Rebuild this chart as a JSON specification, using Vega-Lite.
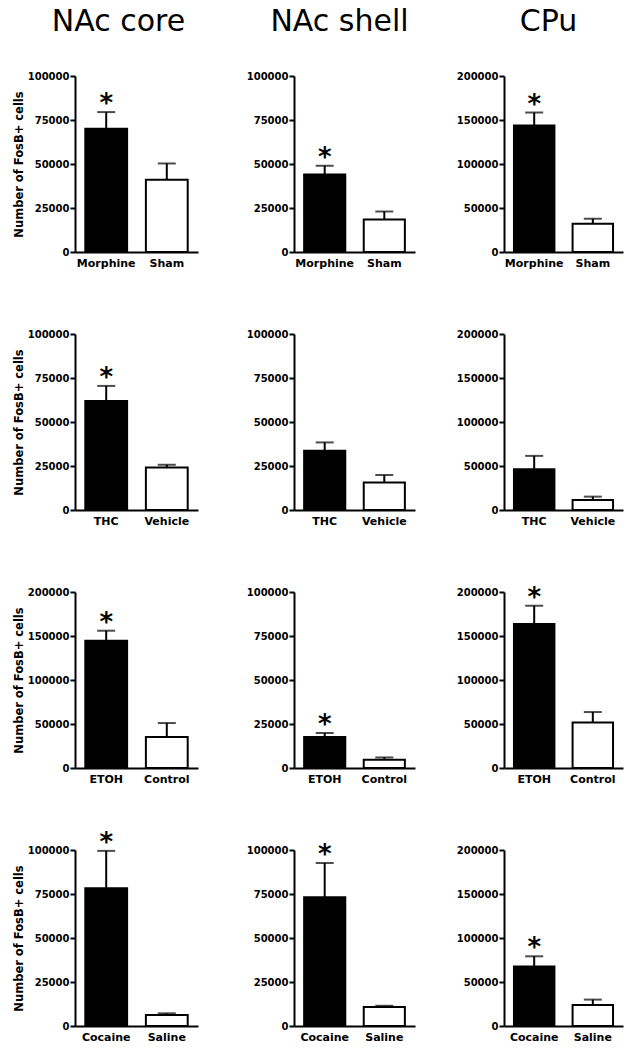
{
"$schema": "https://vega.github.io/schema/vega-lite/v6.json",
"padding": {"left": 13, "top": 7, "right": 5, "bottom": 5},
"background": "white",
"data": {"values": [
{"region": "NAc core", "exp": "morphine", "label": "Morphine", "kind": "drug", "mean": 70000, "hi": 79500, "star": true},
{"region": "NAc core", "exp": "morphine", "label": "Sham", "kind": "control", "mean": 41000, "hi": 50300, "star": false},
{"region": "NAc shell", "exp": "morphine", "label": "Morphine", "kind": "drug", "mean": 44000, "hi": 49000, "star": true},
{"region": "NAc shell", "exp": "morphine", "label": "Sham", "kind": "control", "mean": 18500, "hi": 23000, "star": false},
{"region": "CPu", "exp": "morphine", "label": "Morphine", "kind": "drug", "mean": 143700, "hi": 158500, "star": true},
{"region": "CPu", "exp": "morphine", "label": "Sham", "kind": "control", "mean": 32000, "hi": 37800, "star": false},
{"region": "NAc core", "exp": "thc", "label": "THC", "kind": "drug", "mean": 61900, "hi": 70500, "star": true},
{"region": "NAc core", "exp": "thc", "label": "Vehicle", "kind": "control", "mean": 24200, "hi": 25700, "star": false},
{"region": "NAc shell", "exp": "thc", "label": "THC", "kind": "drug", "mean": 33600, "hi": 38400, "star": false},
{"region": "NAc shell", "exp": "thc", "label": "Vehicle", "kind": "control", "mean": 15600, "hi": 19900, "star": false},
{"region": "CPu", "exp": "thc", "label": "THC", "kind": "drug", "mean": 46300, "hi": 61500, "star": false},
{"region": "CPu", "exp": "thc", "label": "Vehicle", "kind": "control", "mean": 11400, "hi": 15200, "star": false},
{"region": "NAc core", "exp": "etoh", "label": "ETOH", "kind": "drug", "mean": 144700, "hi": 156000, "star": true},
{"region": "NAc core", "exp": "etoh", "label": "Control", "kind": "control", "mean": 35200, "hi": 51100, "star": false},
{"region": "NAc shell", "exp": "etoh", "label": "ETOH", "kind": "drug", "mean": 17600, "hi": 19900, "star": true},
{"region": "NAc shell", "exp": "etoh", "label": "Control", "kind": "control", "mean": 4700, "hi": 6000, "star": false},
{"region": "CPu", "exp": "etoh", "label": "ETOH", "kind": "drug", "mean": 163600, "hi": 184400, "star": true},
{"region": "CPu", "exp": "etoh", "label": "Control", "kind": "control", "mean": 51800, "hi": 63600, "star": false},
{"region": "NAc core", "exp": "cocaine", "label": "Cocaine", "kind": "drug", "mean": 78200, "hi": 99500, "star": true},
{"region": "NAc core", "exp": "cocaine", "label": "Saline", "kind": "control", "mean": 6300, "hi": 7200, "star": false},
{"region": "NAc shell", "exp": "cocaine", "label": "Cocaine", "kind": "drug", "mean": 73200, "hi": 92600, "star": true},
{"region": "NAc shell", "exp": "cocaine", "label": "Saline", "kind": "control", "mean": 10800, "hi": 11500, "star": false},
{"region": "CPu", "exp": "cocaine", "label": "Cocaine", "kind": "drug", "mean": 67600, "hi": 79200, "star": true},
{"region": "CPu", "exp": "cocaine", "label": "Saline", "kind": "control", "mean": 24000, "hi": 30000, "star": false}
]},
"spacing": 48,
"hconcat": [
{"vconcat": [
 {"width": 123, "height": 176, "title": {"text": "NAc core", "dx": -18},
  "transform": [{"filter": "datum.region === 'NAc core' && datum.exp === 'morphine'"}],
  "encoding": {"x": {"field": "label", "type": "nominal", "sort": null, "title": null, "scale": {"paddingInner": 0.31, "paddingOuter": 0.17}, "axis": {"labelAngle": 0}}},
  "layer": [
   {"mark": {"type": "bar", "stroke": "black", "strokeWidth": 2}, "encoding": {"y": {"field": "mean", "type": "quantitative", "scale": {"domain": [0, 100000]}, "axis": {"title": "Number of FosB+ cells", "values": [0, 25000, 50000, 75000, 100000], "format": "d"}}, "color": {"field": "kind", "type": "nominal", "scale": {"domain": ["drug", "control"], "range": ["black", "white"]}, "legend": null}}},
   {"mark": {"type": "rule", "strokeWidth": 2, "color": "black"}, "encoding": {"y": {"field": "mean", "type": "quantitative", "scale": {"domain": [0, 100000]}}, "y2": {"field": "hi"}}},
   {"mark": {"type": "tick", "color": "black", "size": 18, "thickness": 2}, "encoding": {"y": {"field": "hi", "type": "quantitative", "scale": {"domain": [0, 100000]}}}},
   {"transform": [{"filter": "datum.star"}], "mark": {"type": "text", "text": "*", "fontSize": 26, "fontWeight": "bold", "baseline": "alphabetic", "color": "black"}, "encoding": {"y": {"field": "hi", "type": "quantitative", "scale": {"domain": [0, 100000]}}}}
  ]},
 {"width": 123, "height": 176,
  "transform": [{"filter": "datum.region === 'NAc core' && datum.exp === 'thc'"}],
  "encoding": {"x": {"field": "label", "type": "nominal", "sort": null, "title": null, "scale": {"paddingInner": 0.31, "paddingOuter": 0.17}, "axis": {"labelAngle": 0}}},
  "layer": [
   {"mark": {"type": "bar", "stroke": "black", "strokeWidth": 2}, "encoding": {"y": {"field": "mean", "type": "quantitative", "scale": {"domain": [0, 100000]}, "axis": {"title": "Number of FosB+ cells", "values": [0, 25000, 50000, 75000, 100000], "format": "d"}}, "color": {"field": "kind", "type": "nominal", "scale": {"domain": ["drug", "control"], "range": ["black", "white"]}, "legend": null}}},
   {"mark": {"type": "rule", "strokeWidth": 2, "color": "black"}, "encoding": {"y": {"field": "mean", "type": "quantitative", "scale": {"domain": [0, 100000]}}, "y2": {"field": "hi"}}},
   {"mark": {"type": "tick", "color": "black", "size": 18, "thickness": 2}, "encoding": {"y": {"field": "hi", "type": "quantitative", "scale": {"domain": [0, 100000]}}}},
   {"transform": [{"filter": "datum.star"}], "mark": {"type": "text", "text": "*", "fontSize": 26, "fontWeight": "bold", "baseline": "alphabetic", "color": "black"}, "encoding": {"y": {"field": "hi", "type": "quantitative", "scale": {"domain": [0, 100000]}}}}
  ]},
 {"width": 123, "height": 176,
  "transform": [{"filter": "datum.region === 'NAc core' && datum.exp === 'etoh'"}],
  "encoding": {"x": {"field": "label", "type": "nominal", "sort": null, "title": null, "scale": {"paddingInner": 0.31, "paddingOuter": 0.17}, "axis": {"labelAngle": 0}}},
  "layer": [
   {"mark": {"type": "bar", "stroke": "black", "strokeWidth": 2}, "encoding": {"y": {"field": "mean", "type": "quantitative", "scale": {"domain": [0, 200000]}, "axis": {"title": "Number of FosB+ cells", "values": [0, 50000, 100000, 150000, 200000], "format": "d"}}, "color": {"field": "kind", "type": "nominal", "scale": {"domain": ["drug", "control"], "range": ["black", "white"]}, "legend": null}}},
   {"mark": {"type": "rule", "strokeWidth": 2, "color": "black"}, "encoding": {"y": {"field": "mean", "type": "quantitative", "scale": {"domain": [0, 200000]}}, "y2": {"field": "hi"}}},
   {"mark": {"type": "tick", "color": "black", "size": 18, "thickness": 2}, "encoding": {"y": {"field": "hi", "type": "quantitative", "scale": {"domain": [0, 200000]}}}},
   {"transform": [{"filter": "datum.star"}], "mark": {"type": "text", "text": "*", "fontSize": 26, "fontWeight": "bold", "baseline": "alphabetic", "color": "black"}, "encoding": {"y": {"field": "hi", "type": "quantitative", "scale": {"domain": [0, 200000]}}}}
  ]},
 {"width": 123, "height": 176,
  "transform": [{"filter": "datum.region === 'NAc core' && datum.exp === 'cocaine'"}],
  "encoding": {"x": {"field": "label", "type": "nominal", "sort": null, "title": null, "scale": {"paddingInner": 0.31, "paddingOuter": 0.17}, "axis": {"labelAngle": 0}}},
  "layer": [
   {"mark": {"type": "bar", "stroke": "black", "strokeWidth": 2}, "encoding": {"y": {"field": "mean", "type": "quantitative", "scale": {"domain": [0, 100000]}, "axis": {"title": "Number of FosB+ cells", "values": [0, 25000, 50000, 75000, 100000], "format": "d"}}, "color": {"field": "kind", "type": "nominal", "scale": {"domain": ["drug", "control"], "range": ["black", "white"]}, "legend": null}}},
   {"mark": {"type": "rule", "strokeWidth": 2, "color": "black"}, "encoding": {"y": {"field": "mean", "type": "quantitative", "scale": {"domain": [0, 100000]}}, "y2": {"field": "hi"}}},
   {"mark": {"type": "tick", "color": "black", "size": 18, "thickness": 2}, "encoding": {"y": {"field": "hi", "type": "quantitative", "scale": {"domain": [0, 100000]}}}},
   {"transform": [{"filter": "datum.star"}], "mark": {"type": "text", "text": "*", "fontSize": 26, "fontWeight": "bold", "baseline": "alphabetic", "color": "black"}, "encoding": {"y": {"field": "hi", "type": "quantitative", "scale": {"domain": [0, 100000]}}}}
  ]}
], "spacing": 82, "bounds": "flush"},
{"hconcat": [
{"vconcat": [
 {"width": 121, "height": 176, "title": {"text": "NAc shell", "dx": -15},
  "transform": [{"filter": "datum.region === 'NAc shell' && datum.exp === 'morphine'"}],
  "encoding": {"x": {"field": "label", "type": "nominal", "sort": null, "title": null, "scale": {"paddingInner": 0.31, "paddingOuter": 0.17}, "axis": {"labelAngle": 0}}},
  "layer": [
   {"mark": {"type": "bar", "stroke": "black", "strokeWidth": 2}, "encoding": {"y": {"field": "mean", "type": "quantitative", "scale": {"domain": [0, 100000]}, "axis": {"title": null, "values": [0, 25000, 50000, 75000, 100000], "format": "d"}}, "color": {"field": "kind", "type": "nominal", "scale": {"domain": ["drug", "control"], "range": ["black", "white"]}, "legend": null}}},
   {"mark": {"type": "rule", "strokeWidth": 2, "color": "black"}, "encoding": {"y": {"field": "mean", "type": "quantitative", "scale": {"domain": [0, 100000]}}, "y2": {"field": "hi"}}},
   {"mark": {"type": "tick", "color": "black", "size": 18, "thickness": 2}, "encoding": {"y": {"field": "hi", "type": "quantitative", "scale": {"domain": [0, 100000]}}}},
   {"transform": [{"filter": "datum.star"}], "mark": {"type": "text", "text": "*", "fontSize": 26, "fontWeight": "bold", "baseline": "alphabetic", "color": "black"}, "encoding": {"y": {"field": "hi", "type": "quantitative", "scale": {"domain": [0, 100000]}}}}
  ]},
 {"width": 121, "height": 176,
  "transform": [{"filter": "datum.region === 'NAc shell' && datum.exp === 'thc'"}],
  "encoding": {"x": {"field": "label", "type": "nominal", "sort": null, "title": null, "scale": {"paddingInner": 0.31, "paddingOuter": 0.17}, "axis": {"labelAngle": 0}}},
  "layer": [
   {"mark": {"type": "bar", "stroke": "black", "strokeWidth": 2}, "encoding": {"y": {"field": "mean", "type": "quantitative", "scale": {"domain": [0, 100000]}, "axis": {"title": null, "values": [0, 25000, 50000, 75000, 100000], "format": "d"}}, "color": {"field": "kind", "type": "nominal", "scale": {"domain": ["drug", "control"], "range": ["black", "white"]}, "legend": null}}},
   {"mark": {"type": "rule", "strokeWidth": 2, "color": "black"}, "encoding": {"y": {"field": "mean", "type": "quantitative", "scale": {"domain": [0, 100000]}}, "y2": {"field": "hi"}}},
   {"mark": {"type": "tick", "color": "black", "size": 18, "thickness": 2}, "encoding": {"y": {"field": "hi", "type": "quantitative", "scale": {"domain": [0, 100000]}}}},
   {"transform": [{"filter": "datum.star"}], "mark": {"type": "text", "text": "*", "fontSize": 26, "fontWeight": "bold", "baseline": "alphabetic", "color": "black"}, "encoding": {"y": {"field": "hi", "type": "quantitative", "scale": {"domain": [0, 100000]}}}}
  ]},
 {"width": 121, "height": 176,
  "transform": [{"filter": "datum.region === 'NAc shell' && datum.exp === 'etoh'"}],
  "encoding": {"x": {"field": "label", "type": "nominal", "sort": null, "title": null, "scale": {"paddingInner": 0.31, "paddingOuter": 0.17}, "axis": {"labelAngle": 0}}},
  "layer": [
   {"mark": {"type": "bar", "stroke": "black", "strokeWidth": 2}, "encoding": {"y": {"field": "mean", "type": "quantitative", "scale": {"domain": [0, 100000]}, "axis": {"title": null, "values": [0, 25000, 50000, 75000, 100000], "format": "d"}}, "color": {"field": "kind", "type": "nominal", "scale": {"domain": ["drug", "control"], "range": ["black", "white"]}, "legend": null}}},
   {"mark": {"type": "rule", "strokeWidth": 2, "color": "black"}, "encoding": {"y": {"field": "mean", "type": "quantitative", "scale": {"domain": [0, 100000]}}, "y2": {"field": "hi"}}},
   {"mark": {"type": "tick", "color": "black", "size": 18, "thickness": 2}, "encoding": {"y": {"field": "hi", "type": "quantitative", "scale": {"domain": [0, 100000]}}}},
   {"transform": [{"filter": "datum.star"}], "mark": {"type": "text", "text": "*", "fontSize": 26, "fontWeight": "bold", "baseline": "alphabetic", "color": "black"}, "encoding": {"y": {"field": "hi", "type": "quantitative", "scale": {"domain": [0, 100000]}}}}
  ]},
 {"width": 121, "height": 176,
  "transform": [{"filter": "datum.region === 'NAc shell' && datum.exp === 'cocaine'"}],
  "encoding": {"x": {"field": "label", "type": "nominal", "sort": null, "title": null, "scale": {"paddingInner": 0.31, "paddingOuter": 0.17}, "axis": {"labelAngle": 0}}},
  "layer": [
   {"mark": {"type": "bar", "stroke": "black", "strokeWidth": 2}, "encoding": {"y": {"field": "mean", "type": "quantitative", "scale": {"domain": [0, 100000]}, "axis": {"title": null, "values": [0, 25000, 50000, 75000, 100000], "format": "d"}}, "color": {"field": "kind", "type": "nominal", "scale": {"domain": ["drug", "control"], "range": ["black", "white"]}, "legend": null}}},
   {"mark": {"type": "rule", "strokeWidth": 2, "color": "black"}, "encoding": {"y": {"field": "mean", "type": "quantitative", "scale": {"domain": [0, 100000]}}, "y2": {"field": "hi"}}},
   {"mark": {"type": "tick", "color": "black", "size": 18, "thickness": 2}, "encoding": {"y": {"field": "hi", "type": "quantitative", "scale": {"domain": [0, 100000]}}}},
   {"transform": [{"filter": "datum.star"}], "mark": {"type": "text", "text": "*", "fontSize": 26, "fontWeight": "bold", "baseline": "alphabetic", "color": "black"}, "encoding": {"y": {"field": "hi", "type": "quantitative", "scale": {"domain": [0, 100000]}}}}
  ]}
], "spacing": 82, "bounds": "flush"},
{"vconcat": [
 {"width": 119, "height": 176, "title": {"text": "CPu", "dx": -15},
  "transform": [{"filter": "datum.region === 'CPu' && datum.exp === 'morphine'"}],
  "encoding": {"x": {"field": "label", "type": "nominal", "sort": null, "title": null, "scale": {"paddingInner": 0.31, "paddingOuter": 0.17}, "axis": {"labelAngle": 0}}},
  "layer": [
   {"mark": {"type": "bar", "stroke": "black", "strokeWidth": 2}, "encoding": {"y": {"field": "mean", "type": "quantitative", "scale": {"domain": [0, 200000]}, "axis": {"title": null, "values": [0, 50000, 100000, 150000, 200000], "format": "d"}}, "color": {"field": "kind", "type": "nominal", "scale": {"domain": ["drug", "control"], "range": ["black", "white"]}, "legend": null}}},
   {"mark": {"type": "rule", "strokeWidth": 2, "color": "black"}, "encoding": {"y": {"field": "mean", "type": "quantitative", "scale": {"domain": [0, 200000]}}, "y2": {"field": "hi"}}},
   {"mark": {"type": "tick", "color": "black", "size": 18, "thickness": 2}, "encoding": {"y": {"field": "hi", "type": "quantitative", "scale": {"domain": [0, 200000]}}}},
   {"transform": [{"filter": "datum.star"}], "mark": {"type": "text", "text": "*", "fontSize": 26, "fontWeight": "bold", "baseline": "alphabetic", "color": "black"}, "encoding": {"y": {"field": "hi", "type": "quantitative", "scale": {"domain": [0, 200000]}}}}
  ]},
 {"width": 119, "height": 176,
  "transform": [{"filter": "datum.region === 'CPu' && datum.exp === 'thc'"}],
  "encoding": {"x": {"field": "label", "type": "nominal", "sort": null, "title": null, "scale": {"paddingInner": 0.31, "paddingOuter": 0.17}, "axis": {"labelAngle": 0}}},
  "layer": [
   {"mark": {"type": "bar", "stroke": "black", "strokeWidth": 2}, "encoding": {"y": {"field": "mean", "type": "quantitative", "scale": {"domain": [0, 200000]}, "axis": {"title": null, "values": [0, 50000, 100000, 150000, 200000], "format": "d"}}, "color": {"field": "kind", "type": "nominal", "scale": {"domain": ["drug", "control"], "range": ["black", "white"]}, "legend": null}}},
   {"mark": {"type": "rule", "strokeWidth": 2, "color": "black"}, "encoding": {"y": {"field": "mean", "type": "quantitative", "scale": {"domain": [0, 200000]}}, "y2": {"field": "hi"}}},
   {"mark": {"type": "tick", "color": "black", "size": 18, "thickness": 2}, "encoding": {"y": {"field": "hi", "type": "quantitative", "scale": {"domain": [0, 200000]}}}},
   {"transform": [{"filter": "datum.star"}], "mark": {"type": "text", "text": "*", "fontSize": 26, "fontWeight": "bold", "baseline": "alphabetic", "color": "black"}, "encoding": {"y": {"field": "hi", "type": "quantitative", "scale": {"domain": [0, 200000]}}}}
  ]},
 {"width": 119, "height": 176,
  "transform": [{"filter": "datum.region === 'CPu' && datum.exp === 'etoh'"}],
  "encoding": {"x": {"field": "label", "type": "nominal", "sort": null, "title": null, "scale": {"paddingInner": 0.31, "paddingOuter": 0.17}, "axis": {"labelAngle": 0}}},
  "layer": [
   {"mark": {"type": "bar", "stroke": "black", "strokeWidth": 2}, "encoding": {"y": {"field": "mean", "type": "quantitative", "scale": {"domain": [0, 200000]}, "axis": {"title": null, "values": [0, 50000, 100000, 150000, 200000], "format": "d"}}, "color": {"field": "kind", "type": "nominal", "scale": {"domain": ["drug", "control"], "range": ["black", "white"]}, "legend": null}}},
   {"mark": {"type": "rule", "strokeWidth": 2, "color": "black"}, "encoding": {"y": {"field": "mean", "type": "quantitative", "scale": {"domain": [0, 200000]}}, "y2": {"field": "hi"}}},
   {"mark": {"type": "tick", "color": "black", "size": 18, "thickness": 2}, "encoding": {"y": {"field": "hi", "type": "quantitative", "scale": {"domain": [0, 200000]}}}},
   {"transform": [{"filter": "datum.star"}], "mark": {"type": "text", "text": "*", "fontSize": 26, "fontWeight": "bold", "baseline": "alphabetic", "color": "black"}, "encoding": {"y": {"field": "hi", "type": "quantitative", "scale": {"domain": [0, 200000]}}}}
  ]},
 {"width": 119, "height": 176,
  "transform": [{"filter": "datum.region === 'CPu' && datum.exp === 'cocaine'"}],
  "encoding": {"x": {"field": "label", "type": "nominal", "sort": null, "title": null, "scale": {"paddingInner": 0.31, "paddingOuter": 0.17}, "axis": {"labelAngle": 0}}},
  "layer": [
   {"mark": {"type": "bar", "stroke": "black", "strokeWidth": 2}, "encoding": {"y": {"field": "mean", "type": "quantitative", "scale": {"domain": [0, 200000]}, "axis": {"title": null, "values": [0, 50000, 100000, 150000, 200000], "format": "d"}}, "color": {"field": "kind", "type": "nominal", "scale": {"domain": ["drug", "control"], "range": ["black", "white"]}, "legend": null}}},
   {"mark": {"type": "rule", "strokeWidth": 2, "color": "black"}, "encoding": {"y": {"field": "mean", "type": "quantitative", "scale": {"domain": [0, 200000]}}, "y2": {"field": "hi"}}},
   {"mark": {"type": "tick", "color": "black", "size": 18, "thickness": 2}, "encoding": {"y": {"field": "hi", "type": "quantitative", "scale": {"domain": [0, 200000]}}}},
   {"transform": [{"filter": "datum.star"}], "mark": {"type": "text", "text": "*", "fontSize": 26, "fontWeight": "bold", "baseline": "alphabetic", "color": "black"}, "encoding": {"y": {"field": "hi", "type": "quantitative", "scale": {"domain": [0, 200000]}}}}
  ]}
], "spacing": 82, "bounds": "flush"}
], "spacing": 41}
],
"config": {
 "view": {"stroke": null},
 "font": "DejaVu Sans",
 "axis": {"domainColor": "black", "domainWidth": 2, "tickColor": "black", "tickWidth": 2, "grid": false, "labelColor": "black", "labelFont": "DejaVu Sans", "labelFontWeight": "bold", "titleFont": "DejaVu Sans", "titleFontWeight": "bold", "titleColor": "black"},
 "axisY": {"tickSize": 5, "labelPadding": 1, "labelFontSize": 10, "titleFontSize": 11.5, "titlePadding": 3},
 "axisX": {"ticks": false, "tickSize": 0, "labelAngle": 0, "labelFontSize": 11, "labelPadding": 5},
 "title": {"font": "DejaVu Sans", "fontSize": 30, "fontWeight": "normal", "color": "black", "frame": "group", "anchor": "middle", "offset": 34}
}
}
